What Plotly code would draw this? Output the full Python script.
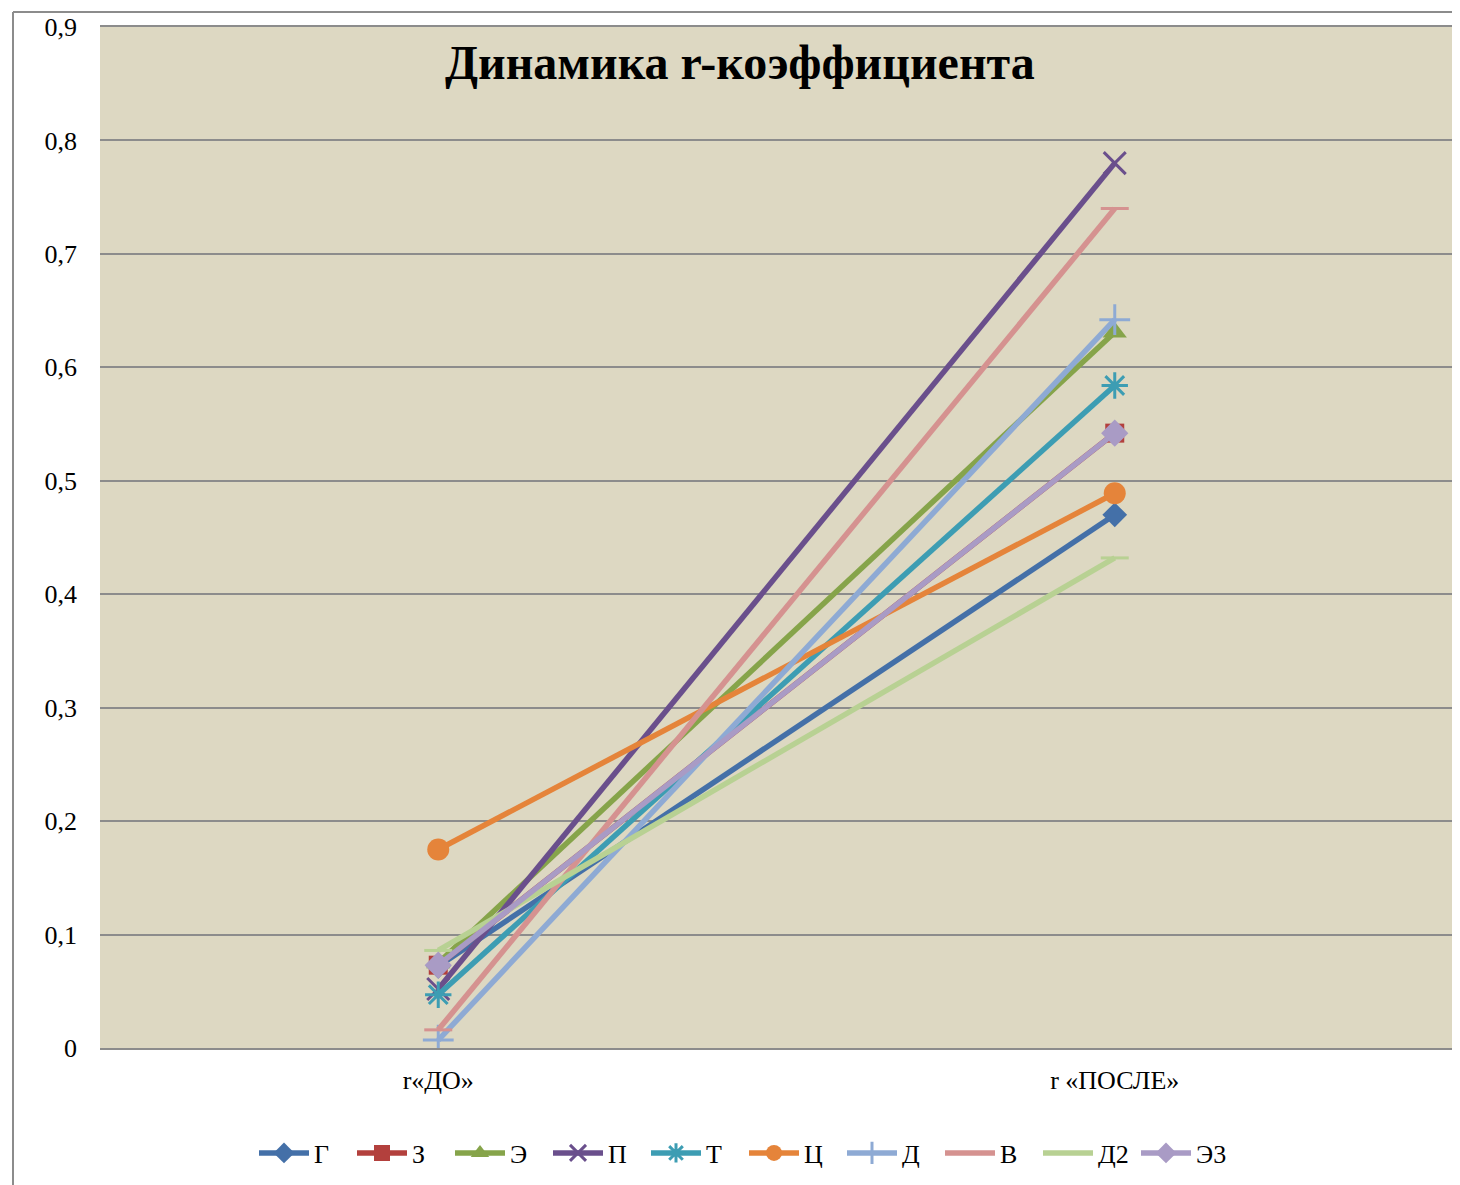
import plotly.graph_objects as go

categories = ["r«ДО»", "r «ПОСЛЕ»"]
series_names = ["Г", "З", "Э", "П", "Т", "Ц", "Д", "В", "Д2", "Э3"]
before = [0.072, 0.073, 0.075, 0.052, 0.047, 0.175, 0.007, 0.016, 0.086, 0.073]
after = [0.470, 0.542, 0.631, 0.780, 0.584, 0.489, 0.642, 0.740, 0.432, 0.542]
y_tick_vals = [0, 0.1, 0.2, 0.3, 0.4, 0.5, 0.6, 0.7, 0.8, 0.9]
y_tick_text = ["0", "0,1", "0,2", "0,3", "0,4", "0,5", "0,6", "0,7", "0,8", "0,9"]

colors = ["#4470A8", "#B3403D", "#86A44A", "#6A4F8C", "#3D9DB3",
          "#E5843A", "#8EAAD4", "#D59290", "#B8D193", "#A99BC5"]
symbols = ["diamond", "square", "triangle-up", "x-thin-open", "asterisk-open",
           "circle", "cross-thin-open", "line-ew-open", "line-ew-open", "diamond"]
sizes = [19, 19, 21, 22, 22, 22, 22, 20, 20, 21]

FONT = "Liberation Serif"

# page offset (body margin) of 8px
OFF = 8
PL, PT, PR, PB = 100 - OFF, 27 - OFF, 1453 - OFF, 1048 - OFF
PW, PH = PR - PL, PB - PT


def px_x(x):
    return (x - OFF - PL) / PW


def px_y(y):
    return (PB - (y - OFF)) / PH


fig = go.Figure()
for i, name in enumerate(series_names):
    sym = symbols[i]
    open_sym = sym.endswith("open")
    fig.add_trace(go.Scatter(
        x=categories,
        y=[before[i], after[i]],
        mode="lines+markers",
        name=name,
        line=dict(color=colors[i], width=5.5),
        marker=dict(symbol=sym, size=sizes[i], color=colors[i],
                    line=dict(color=colors[i], width=3 if open_sym else 0)),
    ))

fig.update_layout(
    width=1460, height=1185,
    margin=dict(l=PL, r=1460 - PR, t=PT, b=1185 - PB, autoexpand=False),
    paper_bgcolor="white",
    plot_bgcolor="#DDD8C2",
    font=dict(family=FONT, size=26, color="black"),
    showlegend=True,
    legend=dict(orientation="h", x=px_x(744), xanchor="center", y=px_y(1153), yanchor="middle",
                font=dict(family=FONT, size=26, color="black"),
                itemwidth=50, entrywidth=33, entrywidthmode="pixels",
                tracegroupgap=0, bgcolor="rgba(0,0,0,0)"),
    xaxis=dict(range=[-0.5, 1.5], showgrid=False, showline=True, linecolor="#8C8C8C",
               linewidth=2, mirror=True, ticks="", tickfont=dict(family=FONT, size=26),
               ticklabelstandoff=8, automargin=False),
    yaxis=dict(range=[0, 0.9], tickvals=y_tick_vals, ticktext=y_tick_text,
               showgrid=True, gridcolor="#8C8C8C", gridwidth=2, zeroline=False,
               showline=False, ticks="", tickfont=dict(family=FONT, size=26),
               ticklabelstandoff=22, automargin=False),
    annotations=[dict(text="<b>Динамика r-коэффициента</b>", xref="paper", yref="paper",
                      x=px_x(740), y=px_y(62), xanchor="center",
                      yanchor="middle", showarrow=False,
                      font=dict(family=FONT, size=48, color="black"))],
    shapes=[
        dict(type="line", xref="paper", yref="paper",
             x0=px_x(13), x1=px_x(13), y0=px_y(12), y1=px_y(1200),
             line=dict(color="#8C8C8C", width=2)),
        dict(type="line", xref="paper", yref="paper",
             x0=px_x(13), x1=px_x(1470), y0=px_y(12), y1=px_y(12),
             line=dict(color="#8C8C8C", width=2)),
    ],
)

fig.write_html("out.html")
